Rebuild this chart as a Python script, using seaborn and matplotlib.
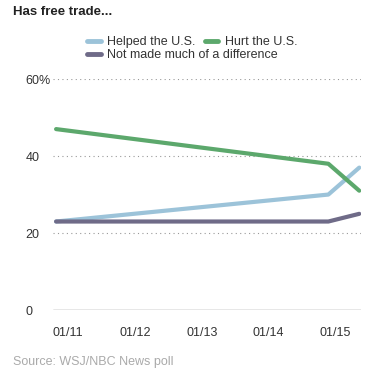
import pandas as pd
import seaborn as sns
import matplotlib.pyplot as plt
import matplotlib.dates as mdates
from matplotlib.lines import Line2D

dates = ["2010-10-27", "2014-11-24", "2015-05-12"]
helped = [23, 30, 37]
hurt = [47, 38, 31]
no_diff = [23, 23, 25]
series_names = ["Helped the U.S.", "Hurt the U.S.", "Not made much of a difference"]
colors = ["#9cc3d9", "#5ca86c", "#6f6b88"]
yticks = [0, 20, 40, 60]
ytick_labels = ["0", "20", "40", "60%"]

df = pd.DataFrame({"date": pd.to_datetime(dates)})
df[series_names[0]] = helped
df[series_names[1]] = hurt
df[series_names[2]] = no_diff
long = df.melt(id_vars="date", var_name="series", value_name="pct")

sns.set_style("white")
plt.rcParams["font.family"] = ["Liberation Sans", "DejaVu Sans"]

fig = plt.figure(figsize=(3.91, 3.8), dpi=100)
ax = fig.add_axes([0.1355, 0.184, 0.788, 0.608])

sns.lineplot(data=long, x="date", y="pct", hue="series", hue_order=series_names,
             palette=colors, linewidth=3, legend=False, ax=ax, zorder=3)

ax.set_ylim(0, 60)
ax.set_xlim(pd.Timestamp("2010-10-10"), pd.Timestamp("2015-05-22"))
ax.set_yticks(yticks)
ax.set_yticklabels(ytick_labels)
for y in yticks[1:]:
    ax.axhline(y, color="#999999", linestyle=(0, (1, 3)), linewidth=0.8, zorder=1)
ax.axhline(0, color="#888888", linewidth=1, zorder=2)

ax.xaxis.set_major_locator(mdates.YearLocator(month=1, day=1))
ax.xaxis.set_major_formatter(mdates.DateFormatter("%m/%y"))
ax.tick_params(axis="x", length=3, color="#bbbbbb", labelsize=9, labelcolor="#333333", pad=9)
ax.tick_params(axis="y", length=0, labelsize=9, labelcolor="#333333", pad=0)
for lab in ax.get_yticklabels():
    lab.set_horizontalalignment("left")
    lab.set_x(-0.09)
ax.set_xlabel("")
ax.set_ylabel("")
sns.despine(ax=ax, left=True, bottom=True)

handles = [Line2D([0], [0], color=c, linewidth=3.5) for c in colors]
fig.legend(handles[:2], series_names[:2], loc="center left", bbox_to_anchor=(0.222, 0.889),
           ncol=2, frameon=False, fontsize=9, handlelength=1.1, handletextpad=0.55,
           columnspacing=0.7, borderpad=0, borderaxespad=0, labelcolor="#333333")
fig.legend(handles[2:], series_names[2:], loc="center left", bbox_to_anchor=(0.222, 0.855),
           frameon=False, fontsize=9, handlelength=1.1, handletextpad=0.55,
           borderpad=0, borderaxespad=0, labelcolor="#333333")

fig.text(0.033, 0.968, "Has free trade...", fontsize=9.5, fontweight="bold", color="#222222",
         va="center", ha="left")
fig.text(0.033, 0.047, "Source: WSJ/NBC News poll", fontsize=9, color="#aaaaaa",
         va="center", ha="left")

plt.savefig("out.png", dpi=100)
plt.close()
